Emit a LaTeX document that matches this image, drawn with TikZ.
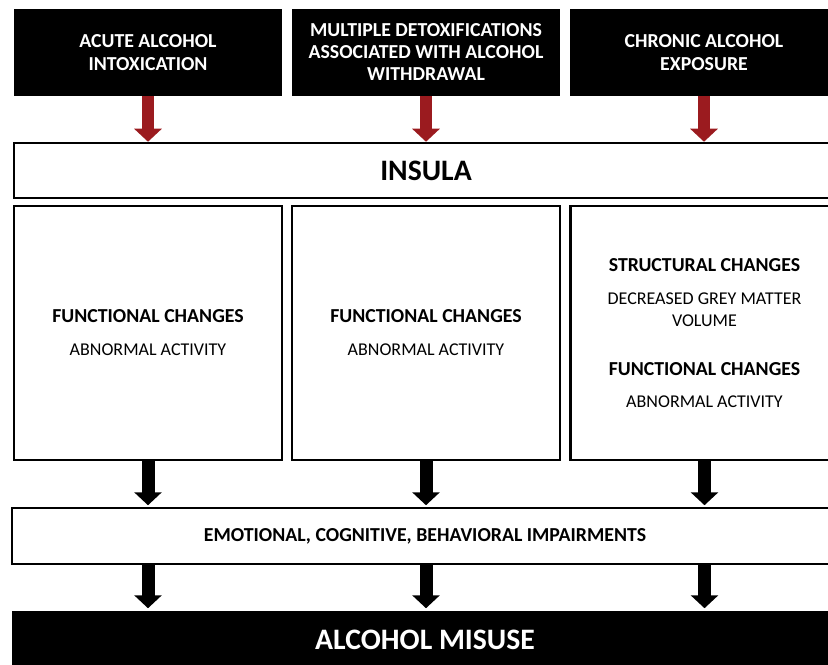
\documentclass[tikz,border=0pt]{standalone}
\usepackage{fontspec}
\setmainfont{Carlito}
\usetikzlibrary{arrows.meta}
\definecolor{arrowred}{RGB}{155,27,31}
\newcommand{\boxfont}{\fontsize{19.8bp}{23bp}\selectfont}
\newcommand{\subfont}{\fontsize{18bp}{23bp}\selectfont}
\newcommand{\bigfont}{\fontsize{29.7bp}{34bp}\selectfont\bfseries}
\tikzset{
  topbox/.style={fill=black,text=white,inner sep=0pt,minimum width=268bp,minimum height=87bp,font=\boxfont\bfseries,align=center},
  changebox/.style={draw=black,line width=2.5bp,fill=white,inner sep=0pt,minimum width=268bp,minimum height=254bp,font=\boxfont,align=center},
  widebox/.style={draw=black,line width=2.5bp,fill=white,inner sep=0pt,minimum width=824bp,minimum height=55bp,align=center},
  redarrow/.style={draw=arrowred,line width=12bp,-{Triangle[width=27bp,length=13bp]}},
  blackarrow/.style={draw=black,line width=13bp,shorten >=1.5bp,-{Triangle[width=27bp,length=13bp]}}
}
\begin{document}
\begin{tikzpicture}[x=1bp,y=-1bp]
  \clip (0,0) rectangle (828,665);
  %causes
  \node[topbox] (acute) at (148,52.5) {ACUTE ALCOHOL\\INTOXICATION};
  \node[topbox] (detox) at (426,52.5) {MULTIPLE DETOXIFICATIONS\\[-1bp]ASSOCIATED WITH ALCOHOL\\[-1bp]WITHDRAWAL};
  \node[topbox] (chronic) at (704,52.5) {CHRONIC ALCOHOL\\EXPOSURE};
  %insula
  \node[widebox,font=\bigfont] (insula) at (426,170.5) {INSULA};
  %changes
  \node[changebox] (acutechg) at (148,333) {\textbf{FUNCTIONAL CHANGES}\\[10bp]{\subfont ABNORMAL ACTIVITY}};
  \node[changebox] (detoxchg) at (426,333) {\textbf{FUNCTIONAL CHANGES}\\[10bp]{\subfont ABNORMAL ACTIVITY}};
  \node[changebox] (chronicchg) at (704.5,333) {\textbf{STRUCTURAL CHANGES}\\[10bp]{\subfont DECREASED GREY MATTER}\\[-1bp]{\subfont VOLUME}\\[26bp]\textbf{FUNCTIONAL CHANGES}\\[9bp]{\subfont ABNORMAL ACTIVITY}};
  %impairments
  \node[widebox,minimum width=826bp,minimum height=56bp,font=\boxfont\bfseries] (impair) at (425,536) {EMOTIONAL, COGNITIVE, BEHAVIORAL IMPAIRMENTS};
  %misuse
  \node[widebox,draw=none,fill=black,text=white,minimum width=826bp,minimum height=58bp,font=\bigfont] (misuse) at (425,640) {ALCOHOL MISUSE};
  %arrows
  \foreach \src in {acute,detox,chronic}
    \draw[redarrow] (\src.south) -- (\src.south |- insula.north);
  \foreach \src in {acutechg,detoxchg,chronicchg}
    \draw[blackarrow] (\src.south) -- (\src.south |- impair.north);
  \foreach \src in {acutechg,detoxchg,chronicchg}
    \draw[blackarrow] (\src.south |- impair.south) -- (\src.south |- misuse.north);
\end{tikzpicture}
\end{document}
